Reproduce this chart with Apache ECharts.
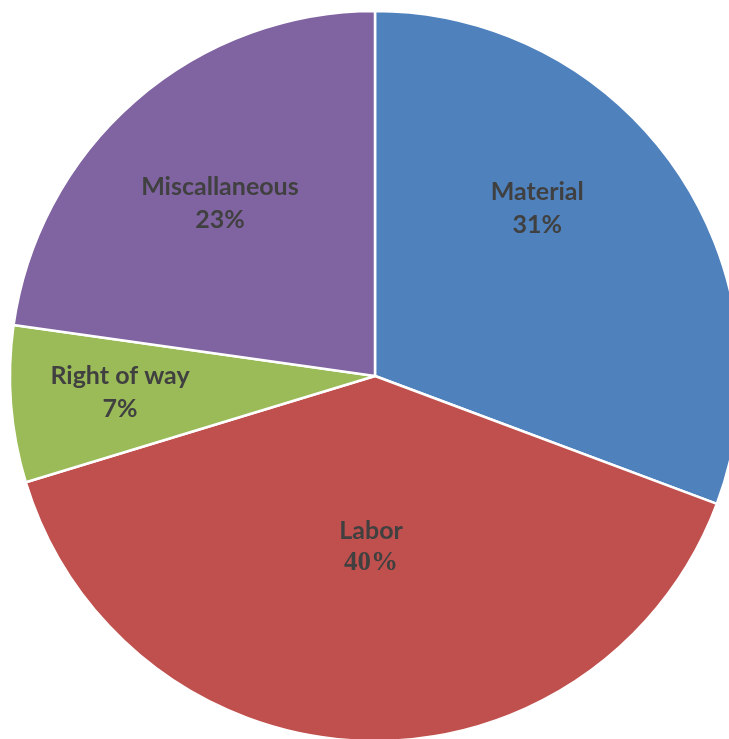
<!DOCTYPE html>
<html>
<head>
<meta charset="utf-8">
<script src="https://cdn.jsdelivr.net/npm/echarts@6/dist/echarts.min.js"></script>
<style>
  html, body { margin: 0; padding: 0; background: #ffffff; }
  #chart { width: 729px; height: 739px; }
</style>
</head>
<body>
<div id="chart"></div>
<script>
// Cost shares (percent), clockwise from 12 o'clock
const categories = ['Material', 'Labor', 'Right of way', 'Miscallaneous'];
const shares = [31, 40, 7, 23];

// Slice colours
const sliceColors = ['#4F81BD', '#C0504D', '#9BBB59', '#8064A2'];

// Label placement: angle (deg, clockwise from top) and distance as a fraction of the radius
const labelAngles = [44, 181.3, 266.4, 318];
const labelRadii = [0.64, 0.47, 0.70, 0.635];

const CX = 375, CY = 376, R = 365;

const chart = echarts.init(document.getElementById('chart'), null, { renderer: 'canvas' });

chart.setOption({
  animation: false,
  backgroundColor: '#ffffff',
  series: [{
    type: 'pie',
    center: [CX, CY],
    radius: [0, R],
    startAngle: 90,
    clockwise: true,
    avoidLabelOverlap: false,
    itemStyle: { borderColor: '#ffffff', borderWidth: 2.5 },
    emphasis: { disabled: true },
    label: {
      show: true,
      position: 'inside',
      color: '#404040',
      formatter: function (p) {
        const valStyle = p.dataIndex === 1 ? 's' : 'v';
        return '{n|' + p.name + '}\n{' + valStyle + '|' + p.value + '%}';
      },
      rich: {
        n: { fontFamily: 'Lato', fontWeight: 'bold', fontSize: 25, color: '#404040', lineHeight: 33, align: 'center' },
        v: { fontFamily: 'Lato', fontWeight: 'bold', fontSize: 25, color: '#404040', lineHeight: 33, align: 'center' },
        s: { fontFamily: 'Liberation Serif', fontWeight: 'bold', fontSize: 27, color: '#404040', lineHeight: 33, align: 'center' }
      }
    },
    labelLine: { show: false },
    labelLayout: function (params) {
      const i = params.dataIndex;
      const a = labelAngles[i] * Math.PI / 180;
      const tx = CX + R * labelRadii[i] * Math.sin(a);
      const ty = CY - R * labelRadii[i] * Math.cos(a);
      const rect = params.labelRect;
      return {
        dx: tx - (rect.x + rect.width / 2),
        dy: ty - (rect.y + rect.height / 2)
      };
    },
    data: categories.map(function (name, i) {
      return { name: name, value: shares[i], itemStyle: { color: sliceColors[i] } };
    })
  }]
});
</script>
</body>
</html>
